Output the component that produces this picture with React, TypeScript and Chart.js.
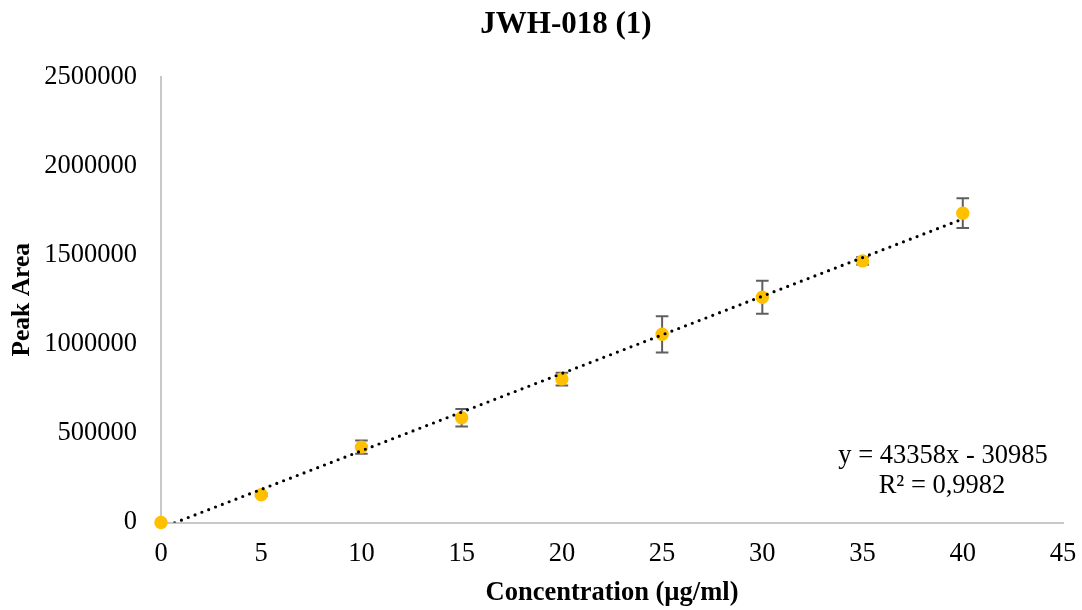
import React, { useEffect, useRef } from "react";
import { Chart, registerables } from "chart.js";

Chart.register(...registerables);

const TITLE = "JWH-018 (1)";
const X_TITLE = "Concentration (µg/ml)";
const Y_TITLE = "Peak Area";

const concentrations = [0, 5, 10, 15, 20, 25, 30, 35, 40];
const peakAreas = [0, 156000, 423000, 588000, 805000, 1056000, 1264000, 1468000, 1736000];
const errorBars = [0, 8000, 37000, 49000, 36000, 102000, 92000, 22000, 84000];

const SLOPE = 43358;
const INTERCEPT = -30985;
const TREND_X = [0, 40];
const EQUATION = "y = 43358x - 30985";
const R2_TEXT = "R² = 0,9982";

const X_MIN = 0, X_MAX = 45, X_STEP = 5;
const Y_MIN = 0, Y_MAX = 2500000, Y_STEP = 500000;

const FONT = '"Liberation Serif", "Times New Roman", serif';

export default function App() {
  const ref = useRef<HTMLCanvasElement | null>(null);

  useEffect(() => {
    document.body.style.margin = "0";
    const canvas = ref.current;
    if (!canvas) return;

    const errorPlugin = {
      id: "errorBars",
      beforeDatasetsDraw(chart: any) {
        const { ctx, scales } = chart;
        const xs = scales.x, ys = scales.y;
        ctx.save();
        ctx.strokeStyle = "#5f5f5f";
        ctx.lineWidth = 2;
        concentrations.forEach((c, i) => {
          const e = errorBars[i];
          if (!e) return;
          const px = xs.getPixelForValue(c);
          const top = ys.getPixelForValue(peakAreas[i] + e);
          const bot = ys.getPixelForValue(peakAreas[i] - e);
          const cap = 6.3;
          ctx.beginPath();
          ctx.moveTo(px, top); ctx.lineTo(px, bot);
          ctx.moveTo(px - cap, top); ctx.lineTo(px + cap, top);
          ctx.moveTo(px - cap, bot); ctx.lineTo(px + cap, bot);
          ctx.stroke();
        });
        ctx.restore();
      },
    };

    const textPlugin = {
      id: "texts",
      afterDraw(chart: any) {
        const { ctx } = chart;
        ctx.save();
        ctx.fillStyle = "#000";
        ctx.textAlign = "center";
        ctx.textBaseline = "middle";
        ctx.font = `bold 31px ${FONT}`;
        ctx.fillText(TITLE, 566, 25);
        ctx.font = `26.5px ${FONT}`;
        ctx.fillText(EQUATION, 943, 456);
        ctx.fillText(R2_TEXT, 942, 486);
        ctx.restore();
      },
    };

    const chart = new Chart(canvas, {
      type: "scatter",
      data: {
        datasets: [
          {
            type: "line",
            data: TREND_X.map((x) => ({ x, y: SLOPE * x + INTERCEPT })),
            borderColor: "#000",
            borderWidth: 3.2,
            borderDash: [0, 7.3],
            borderCapStyle: "round",
            pointRadius: 0,
            fill: false,
          } as any,
          {
            data: concentrations.map((x, i) => ({ x, y: peakAreas[i] })),
            backgroundColor: "#FFC000",
            borderWidth: 0,
            pointRadius: 6.7,
            clip: false,
          } as any,
        ],
      },
      plugins: [errorPlugin, textPlugin],
      options: {
        responsive: false,
        animation: false,
        layout: { padding: { top: 77, right: 19, bottom: 0, left: 0 } },
        plugins: { legend: { display: false }, tooltip: { enabled: false }, title: { display: false } },
        scales: {
          x: {
            type: "linear",
            min: X_MIN,
            max: X_MAX,
            afterFit: (s: any) => { s.height = 87.5; s.paddingRight = 0; s.paddingLeft = 0; },
            ticks: { stepSize: X_STEP, color: "#000", padding: 16, font: { family: FONT, size: 26.5 }, callback: (v: any) => String(v) },
            grid: { display: false, drawTicks: false },
            border: { color: "#c8c8c8", width: 2 },
            title: { display: true, text: X_TITLE, color: "#000", padding: { top: 0, bottom: 1 }, font: { family: FONT, size: 26.5, weight: "bold" } },
          },
          y: {
            type: "linear",
            min: Y_MIN,
            max: Y_MAX,
            afterFit: (s: any) => { s.width = 161; s.paddingTop = 0; s.paddingBottom = 0; },
            ticks: { stepSize: Y_STEP, color: "#000", padding: 24, font: { family: FONT, size: 26.5 }, callback: (v: any) => String(v) },
            grid: { display: false, drawTicks: false },
            border: { color: "#c8c8c8", width: 2 },
            title: { display: true, text: Y_TITLE, color: "#000", padding: { top: 7, bottom: 0 }, font: { family: FONT, size: 25.5, weight: "bold" } },
          },
        },
      },
    });
    return () => chart.destroy();
  }, []);

  return (
    <div style={{ width: 1082, height: 610 }}>
      <canvas ref={ref} width={1082} height={610} />
    </div>
  );
}
